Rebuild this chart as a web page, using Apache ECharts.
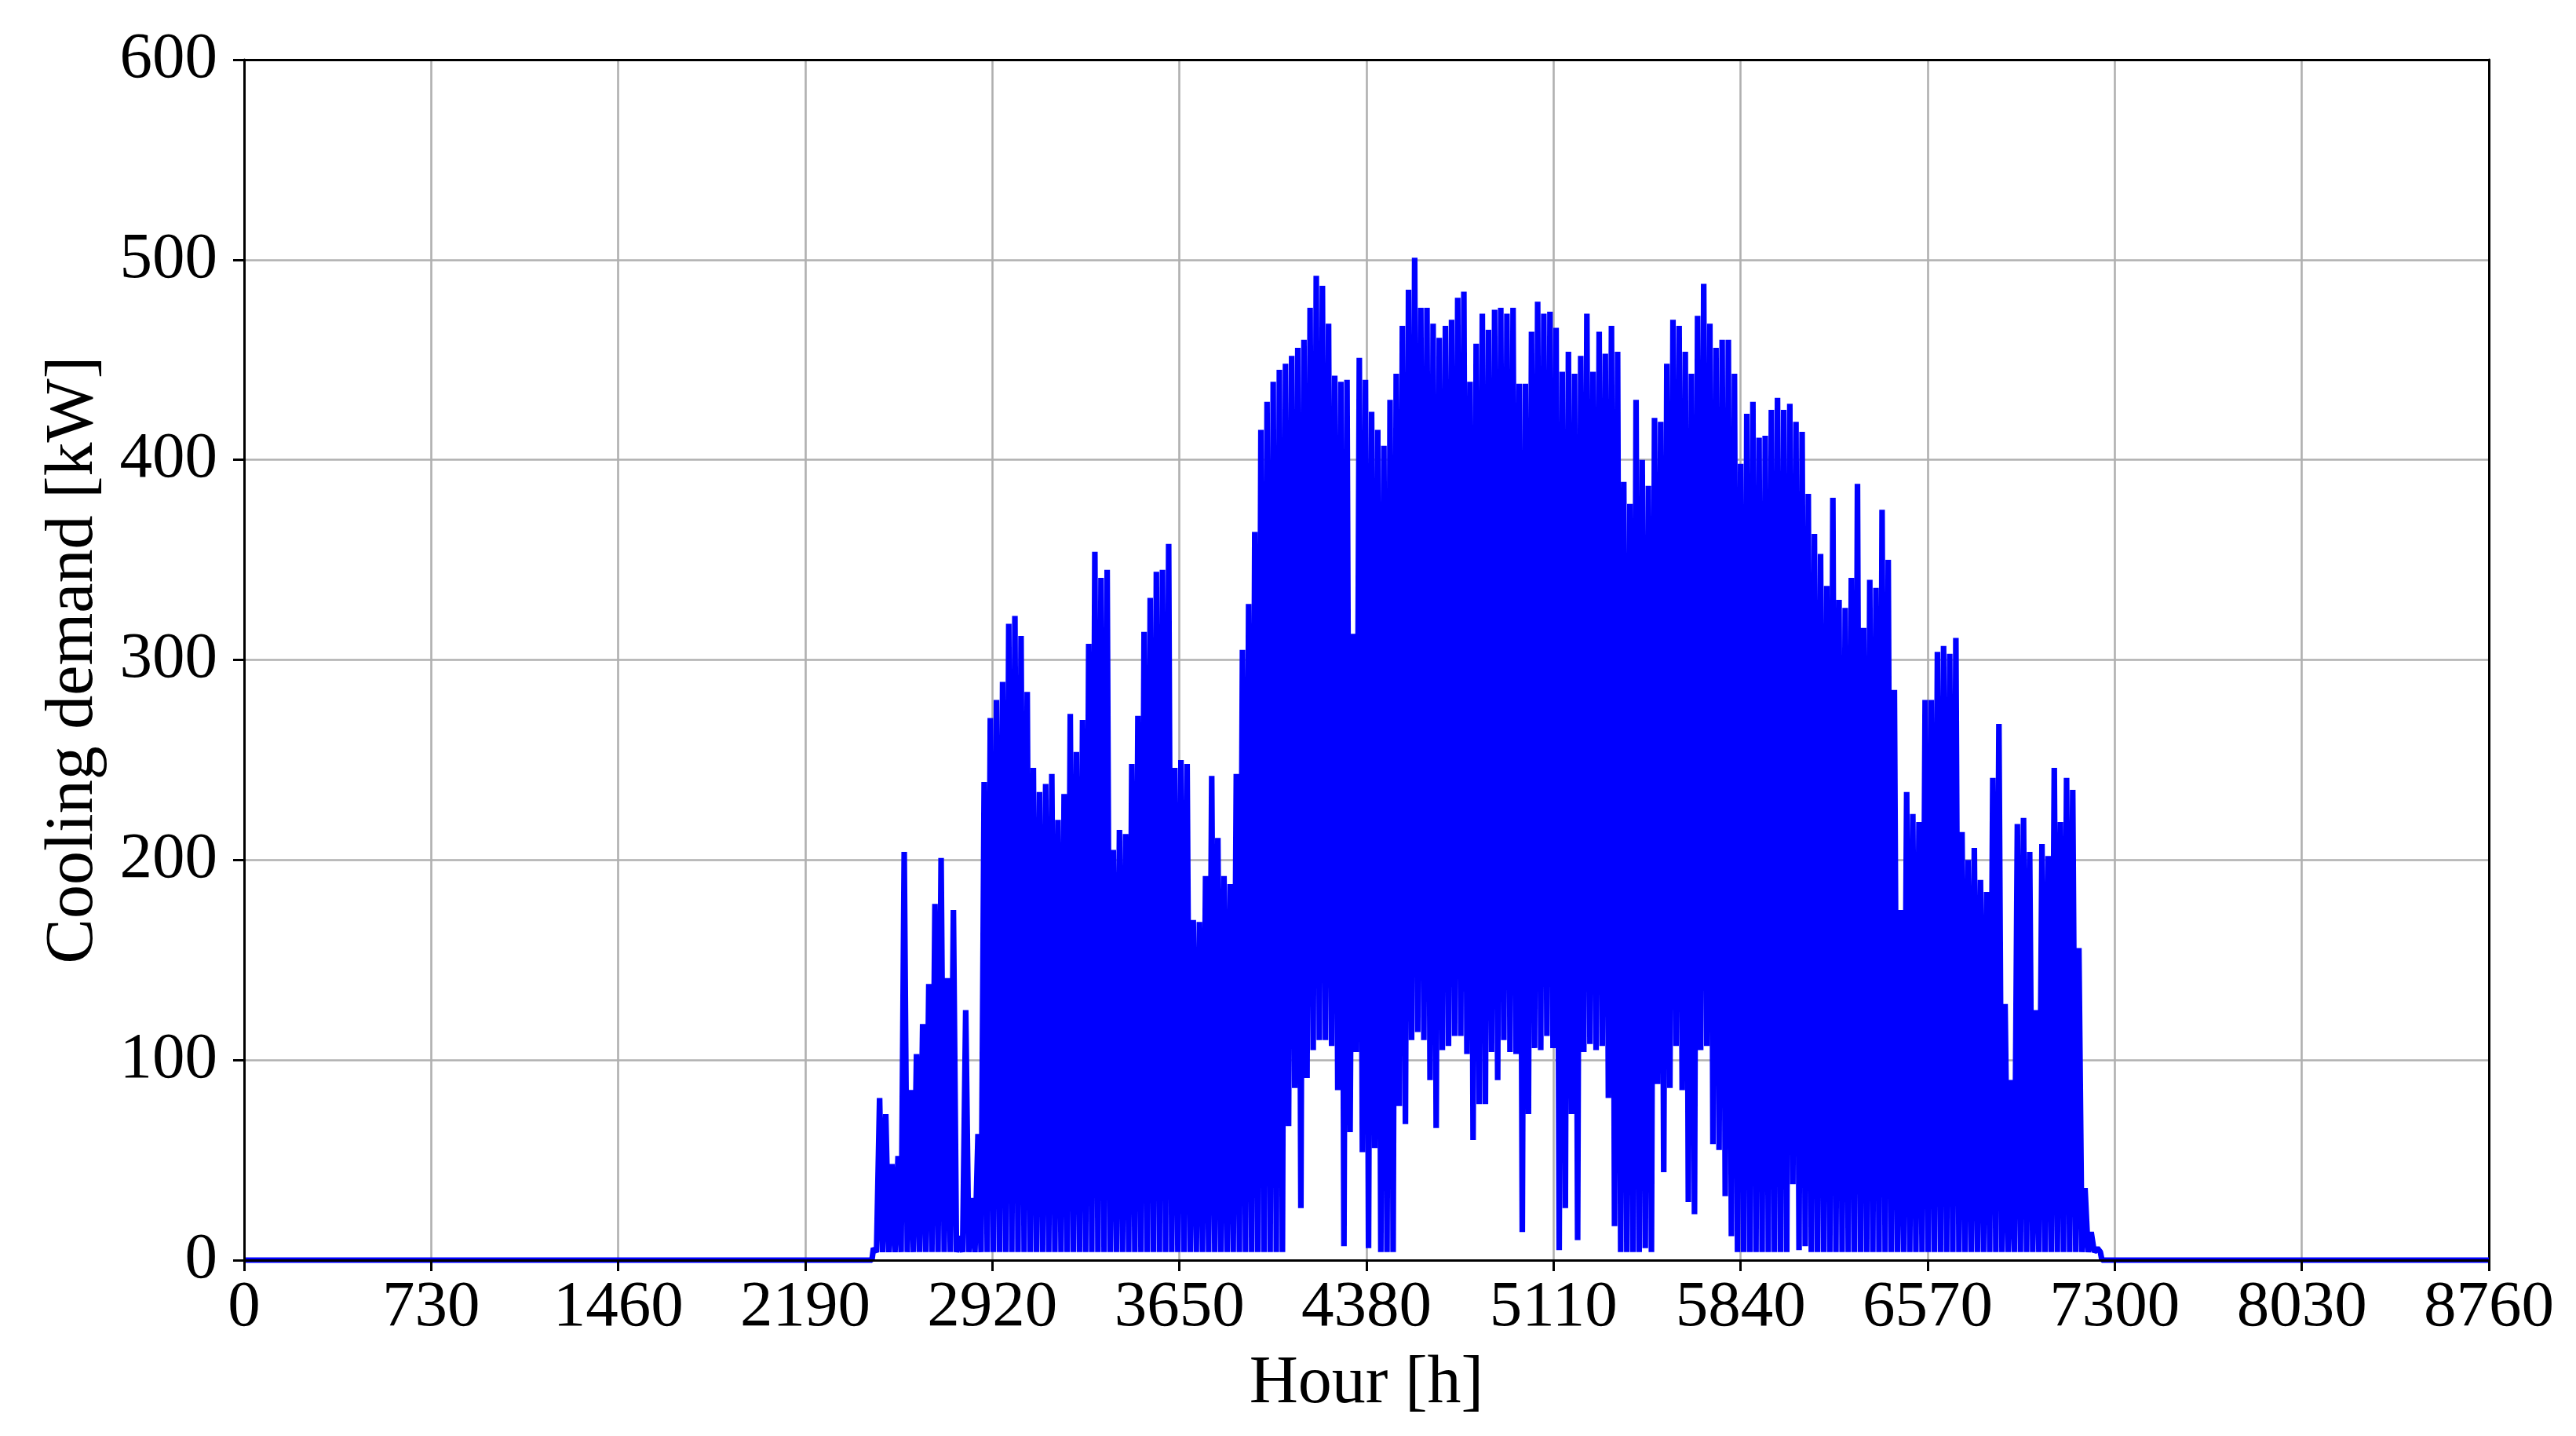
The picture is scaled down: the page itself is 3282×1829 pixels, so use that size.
<!DOCTYPE html>
<html><head><meta charset="utf-8">
<style>html,body{margin:0;padding:0;background:#fff}#c{width:3282px;height:1829px}</style>
<script src="https://cdn.jsdelivr.net/npm/echarts@6/dist/echarts.min.js"></script>
</head><body><div id="c"></div>
<script>
const xTicks = [0,730,1460,2190,2920,3650,4380,5110,5840,6570,7300,8030,8760];
const firstPeakHour = 2480;
const hoursPerDay = 24;
// highest demand of each day
const dailyPeaks = [
81,73,48,52,204,85,103,118,138,178,201,141,175,12,125,31,63,239,271,280,289,318,322,312,284,246,234,238,243,220,233,273,254,270,308,354,341,345,205,215,213,248,272,314,331,344,345,358,246,
250,248,170,169,192,242,211,192,188,243,305,328,364,415,429,439,445,448,452,456,460,476,492,487,468,442,439,440,313,451,440,424,415,407,430,443,467,485,501,476,476,468,461,467,470,481,484,439,458,473,465,
475,476,473,476,438,438,464,479,473,474,466,444,454,443,452,473,444,464,453,467,454,389,378,430,400,387,421,419,448,470,467,454,443,472,488,468,456,460,460,443,398,423,429,411,412,425,431,425,428,419,414,
383,363,353,337,381,330,326,341,388,316,340,336,375,350,285,175,234,223,219,280,280,304,307,303,311,214,200,206,190,184,241,268,128,90,218,221,204,125,208,202,246,219,241,235,156,36,14,6
];
// lowest demand between one day's peak and the next
const dailyLows = [
4,4,4,4,4,4,4,4,4,4,4,4,4,4,4,4,4,4,4,4,4,4,4,4,4,4,4,4,4,4,4,4,4,4,4,4,4,4,4,4,4,4,4,4,4,4,4,4,4,
4,4,4,4,4,4,4,4,4,4,4,4,4,4,4,4,4,67,86,26,91,105,110,110,107,85,7,64,104,54,6,56,4,4,4,77,68,110,114,110,90,66,105,107,112,112,103,60,78,78,104,
90,110,104,103,14,73,106,105,112,106,5,26,73,10,104,108,105,107,81,17,4,4,4,4,6,4,88,44,86,107,85,29,23,105,107,58,55,32,12,4,4,4,4,4,4,4,4,4,38,5,7,
4,4,4,4,4,4,4,4,4,4,4,4,4,4,4,4,4,4,4,4,4,4,4,4,4,4,4,4,4,4,4,4,4,4,4,4,4,4,4,4,4,4,4,4,4,4,4,4
];
const leadIn = [[0,0],[2450,0],[2456,6],[2468,4]];
const leadOut = [[7250,0],[8760,0]];

const points = leadIn.slice();
dailyPeaks.forEach((p,i)=>{
  const h = firstPeakHour + i*hoursPerDay;
  points.push([h,p]);
  points.push([h+hoursPerDay/2,dailyLows[i]]);
});
leadOut.forEach(p=>points.push(p));

const serif = '"Liberation Serif","Times New Roman",serif';
const chart = echarts.init(document.getElementById('c'),null,{renderer:'canvas',devicePixelRatio:1});
chart.setOption({
  animation:false,
  backgroundColor:'#ffffff',
  grid:{left:311,top:76,width:2860,height:1529,containLabel:false},
  xAxis:[
    {type:'value',position:'bottom',min:0,max:8760,interval:730,z:5,
     name:'Hour [h]',nameLocation:'middle',nameGap:115,
     nameTextStyle:{fontFamily:serif,fontSize:86,color:'#000'},
     axisLine:{show:true,onZero:false,lineStyle:{color:'#000',width:3}},
     axisTick:{show:true,length:14,lineStyle:{color:'#000',width:3}},
     axisLabel:{show:true,margin:20,fontFamily:serif,fontSize:83,color:'#000',hideOverlap:false,showMinLabel:true,showMaxLabel:true,formatter:v=>String(v)},
     splitLine:{show:false}},
    {type:'value',position:'top',min:0,max:8760,interval:730,z:0,
     axisLine:{show:true,onZero:false,lineStyle:{color:'#000',width:3}},
     axisTick:{show:false},axisLabel:{show:false},
     splitLine:{show:true,lineStyle:{color:'#b0b0b0',width:2.6}}}
  ],
  yAxis:[
    {type:'value',position:'left',min:0,max:600,interval:100,z:5,
     name:'Cooling demand [kW]',nameLocation:'middle',nameGap:174,nameRotate:90,
     nameTextStyle:{fontFamily:serif,fontSize:86,color:'#000'},
     axisLine:{show:true,onZero:false,lineStyle:{color:'#000',width:3}},
     axisTick:{show:true,length:14,lineStyle:{color:'#000',width:3}},
     axisLabel:{show:true,margin:34,fontFamily:serif,fontSize:83,color:'#000',showMinLabel:true,showMaxLabel:true,padding:[12,0,0,0],formatter:v=>String(v)},
     splitLine:{show:false}},
    {type:'value',position:'right',min:0,max:600,interval:100,z:0,
     axisLine:{show:true,onZero:false,lineStyle:{color:'#000',width:3}},
     axisTick:{show:false},axisLabel:{show:false},
     splitLine:{show:true,lineStyle:{color:'#b0b0b0',width:2.6}}}
  ],
  series:[{
    type:'line',xAxisIndex:0,yAxisIndex:0,data:points,
    showSymbol:false,symbol:'none',smooth:false,clip:false,z:2,
    sampling:false,progressive:0,
    lineStyle:{color:'#0000ff',width:7.2,join:'bevel',cap:'butt'}
  }]
});
</script>
</body></html>
